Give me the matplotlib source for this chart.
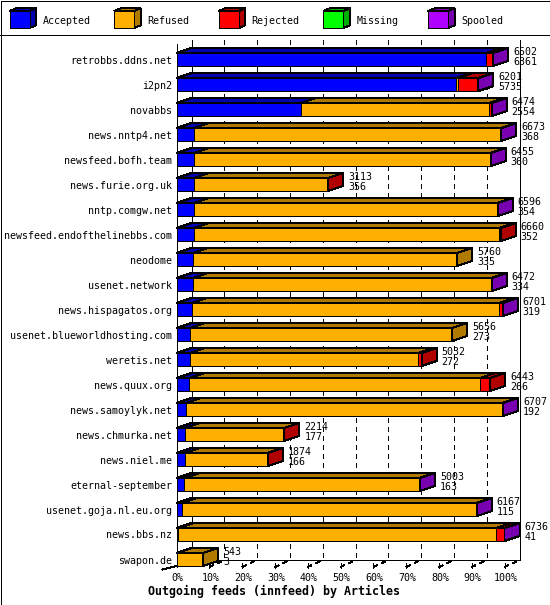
import matplotlib
matplotlib.use("Agg")
import matplotlib.pyplot as plt
from matplotlib.patches import Polygon, Rectangle
from matplotlib.lines import Line2D
import matplotlib.colors as mcolors

# ---------------- data ----------------
hosts = ["retrobbs.ddns.net", "i2pn2", "novabbs", "news.nntp4.net", "newsfeed.bofh.team",
         "news.furie.org.uk", "nntp.comgw.net", "newsfeed.endofthelinebbs.com", "neodome",
         "usenet.network", "news.hispagatos.org", "usenet.blueworldhosting.com", "weretis.net",
         "news.quux.org", "news.samoylyk.net", "news.chmurka.net", "news.niel.me",
         "eternal-september", "usenet.goja.nl.eu.org", "news.bbs.nz", "swapon.de"]
accepted = [6361, 5735, 2554, 368, 360, 356, 354, 352, 335, 334, 319, 273, 272, 266, 192,
            177, 166, 163, 115, 41, 3]
refused = [0, 50, 3870, 6290, 6080, 2747, 6227, 6278, 5425, 6123, 6302, 5383, 4690, 5972,
           6500, 2027, 1700, 4825, 6037, 6515, 540]
rejected = [130, 400, 40, 0, 0, 10, 0, 30, 0, 0, 70, 0, 70, 205, 0, 10, 8, 0, 0, 165, 0]
missing = [0, 0, 0, 0, 0, 0, 0, 0, 0, 0, 0, 0, 0, 0, 0, 0, 0, 0, 0, 0, 0]
spooled = [11, 16, 10, 15, 15, 0, 15, 0, 0, 15, 10, 0, 0, 0, 15, 0, 0, 15, 15, 15, 0]
series_names = ["Accepted", "Refused", "Rejected", "Missing", "Spooled"]
series_colors = ["#0000FF", "#FFAF00", "#FF0000", "#00FF00", "#AF00FF"]
pct_ticks = [0, 10, 20, 30, 40, 50, 60, 70, 80, 90, 100]
title = "Outgoing feeds (innfeed) by Articles"

series = [accepted, refused, rejected, missing, spooled]

# ---------------- layout (pixels) ----------------
W, H = 550, 605
L, R = 176.5, 504.5      # front-plane 0% / 100%
T, B = 40.0, 567.0       # plot area top / front floor
ROW0 = 59.5              # centre of first bar
PITCH = 25.0
HALF = 6.5               # half height of bar front face
DX, DY = 15.0, 5.0       # bar depth
BDX, BDY = 15.0, 7.0     # back plane offset
LW = 0.72
MONO = "DejaVu Sans Mono"
FS = 7.2

plt.rcParams["lines.scale_dashes"] = False


def dark(c, f=0.69):
    r, g, b = mcolors.to_rgb(c)
    return (r * f, g * f, b * f)


fig = plt.figure(figsize=(W / 100, H / 100), dpi=100)
fig.patch.set_facecolor("white")

# decoration axes covering whole figure (pixel coordinates)
deco = fig.add_axes([0, 0, 1, 1])
deco.set_xlim(0, W)
deco.set_ylim(H, 0)
deco.set_axis_off()

# main axes: front plane
ax = fig.add_axes([L / W, 1 - B / H, (R - L) / W, (B - T) / H])
ax.set_axis_off()
n = len(hosts)
totals = [sum(s[i] for s in series) for i in range(n)]
vmax = max(totals)
ax.set_xlim(0, vmax)
ax.set_ylim((B - ROW0) / PITCH, (T - ROW0) / PITCH)

ux = vmax / (R - L)   # data units per pixel (x)
uy = 1.0 / PITCH      # data units per pixel (y, downwards)

# ---------- grid / back plane ----------
y_top = (T - ROW0) / PITCH
y_front = (B - ROW0) / PITCH
y_back = y_front - BDY * uy
for k in pct_ticks:
    xv = vmax * k / 100.0
    xb = xv + BDX * ux
    ls = "-" if k in (0, 100) else (0, (2.9, 2.9))
    ax.add_line(Line2D([xb, xb], [y_top, y_back], color="black", lw=LW, ls=ls,
                       antialiased=False, clip_on=False, zorder=1))
    if k > 0:
        ax.add_line(Line2D([xv, xb], [y_front, y_back], color="black", lw=LW,
                           ls=(0, (2.9, 2.9)), antialiased=False, clip_on=False, zorder=1))
        ax.add_line(Line2D([xv, xv], [y_front - 4 * uy, y_front + 1 * uy], color="black",
                           lw=LW, antialiased=False, clip_on=False, zorder=1))
    ax.text(xv + 1 * ux, (581 - ROW0) / PITCH, f"{k}%", ha="center", va="baseline",
            family=MONO, fontsize=FS, clip_on=False)
# floor back line
ax.add_line(Line2D([BDX * ux, vmax + BDX * ux], [y_back, y_back], color="black", lw=LW,
                   antialiased=False, clip_on=False, zorder=1))
# front left axis
ax.add_line(Line2D([0, 0], [y_top + 4 * uy, y_front], color="black", lw=LW,
                   antialiased=False, clip_on=False, zorder=1))
ax.add_line(Line2D([0, -14 * ux], [y_front - 1 * uy, y_front + 2.5 * uy], color="black",
                   lw=LW, antialiased=False, clip_on=False, zorder=1))

# ---------- bars ----------
for i in range(n):
    yc = i
    yt = yc - HALF * uy
    yb = yc + HALF * uy
    x0 = 0.0
    last = None
    for s, col in zip(series, series_colors):
        v = s[i]
        if v <= 0:
            continue
        x1 = x0 + v
        ax.add_patch(Polygon([[x0, yt], [x1, yt], [x1, yb], [x0, yb]], closed=True,
                             facecolor=col, edgecolor="black", lw=LW, antialiased=False,
                             clip_on=False, zorder=3))
        ax.add_patch(Polygon([[x0, yt], [x1, yt], [x1 + DX * ux, yt - DY * uy],
                              [x0 + DX * ux, yt - DY * uy]], closed=True,
                             facecolor=dark(col), edgecolor="black", lw=LW,
                             antialiased=False, clip_on=False, zorder=3))
        last = col
        x0 = x1
    if last is not None:
        ax.add_patch(Polygon([[x0, yt], [x0 + DX * ux, yt - DY * uy],
                              [x0 + DX * ux, yb - DY * uy], [x0, yb]], closed=True,
                             facecolor=dark(last), edgecolor="black", lw=LW,
                             antialiased=False, clip_on=False, zorder=3))
    xl = totals[i] + (DX + 5) * ux
    ax.text(xl, yc - 4.5 * uy, str(totals[i]), ha="left", va="baseline", family=MONO,
            fontsize=FS, clip_on=False, zorder=4)
    ax.text(xl, yc + 5.8 * uy, str(accepted[i]), ha="left", va="baseline", family=MONO,
            fontsize=FS, clip_on=False, zorder=4)
    ax.text(-4.5 * ux, yc + 4.0 * uy, hosts[i], ha="right", va="baseline", family=MONO,
            fontsize=FS, clip_on=False, zorder=4)

# ---------- legend ----------
for j, (name, col) in enumerate(zip(series_names, series_colors)):
    lx = 9.5 + j * 104.6
    fx0, fx1, fy0, fy1 = lx, lx + 20, 11.0, 28.0
    ddx, ddy = 6.7, 2.7
    deco.add_patch(Polygon([[fx1, fy0], [fx1 + ddx, fy0 - ddy], [fx1 + ddx, fy1 - ddy],
                            [fx1, fy1]], closed=True, facecolor=dark(col), edgecolor="black",
                           lw=LW, antialiased=False))
    deco.add_patch(Polygon([[fx0, fy0], [fx1, fy0], [fx1 + ddx, fy0 - ddy],
                            [fx0 + ddx, fy0 - ddy]], closed=True, facecolor=dark(col),
                           edgecolor="black", lw=LW, antialiased=False))
    deco.add_patch(Rectangle((fx0, fy0), 20, 17, facecolor=col, edgecolor="black", lw=LW,
                             antialiased=False))
    deco.text(lx + 33, 23.5, name, ha="left", va="baseline", family=MONO, fontsize=FS)

# separator + border
deco.add_line(Line2D([0, W], [34.5, 34.5], color="black", lw=LW, antialiased=False))
deco.add_patch(Rectangle((0.5, 0.5), W - 1, H - 1, fill=False, edgecolor="black", lw=LW,
                         antialiased=False))

# title
deco.text(274, 595, title, ha="center", va="baseline", family=MONO, fontsize=8.4,
          fontweight="bold")

fig.savefig("out.png", dpi=100, facecolor="white")
